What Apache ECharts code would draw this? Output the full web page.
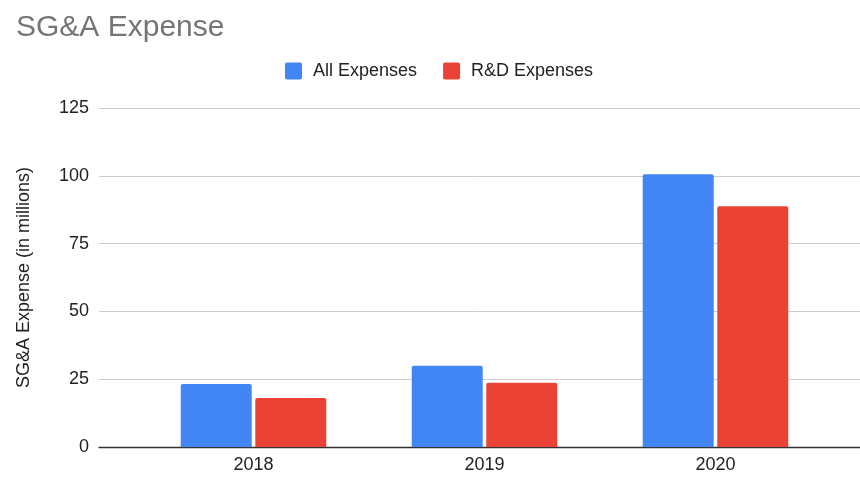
<!DOCTYPE html>
<html>
<head>
<meta charset="utf-8">
<script src="https://cdn.jsdelivr.net/npm/echarts@6/dist/echarts.min.js"></script>
<style>
  html, body { margin: 0; padding: 0; background: #fff; }
  #chart { width: 860px; height: 477px; }
</style>
</head>
<body>
<div id="chart"></div>
<script>
// Chart data
const years = ['2018', '2019', '2020'];
const allExpenses = [23.2, 30.0, 100.6];
const rdExpenses = [18.1, 23.7, 88.8];
const seriesNames = ['All Expenses', 'R&D Expenses'];
const yMin = 0, yMax = 125, yStep = 25;

const FONT = 'Liberation Sans, Arial, sans-serif';
const TOP = 108, BOTTOM = 30;
// small square legend marker with slightly rounded corners
const SQUARE = 'path://M2,0 H15 Q17,0 17,2 V15 Q17,17 15,17 H2 Q0,17 0,15 V2 Q0,0 2,0 Z';

const chart = echarts.init(document.getElementById('chart'), null, { renderer: 'canvas' });

chart.setOption({
  backgroundColor: '#ffffff',
  animation: false,
  title: {
    text: 'SG&A Expense',
    left: 11,
    top: 8,
    textStyle: { fontFamily: FONT, fontSize: 30, fontWeight: 'normal', color: '#757575' }
  },
  legend: {
    data: seriesNames,
    left: 280,
    top: 57,
    itemWidth: 17,
    itemHeight: 17,
    itemGap: 26,
    icon: SQUARE,
    textStyle: { fontFamily: FONT, fontSize: 18, color: '#222222', padding: [0, 0, 0, 6] }
  },
  grid: [
    // full-width grid carrying the value axis and gridlines
    { left: 99, right: 0, top: TOP, bottom: BOTTOM },
    // inner grid holding the category bars
    { left: 138, right: 29, top: TOP, bottom: BOTTOM }
  ],
  xAxis: [
    {
      gridIndex: 0, type: 'value', min: 0, max: 1,
      axisLine: { show: true, onZero: false, lineStyle: { color: '#333333', width: 1.3 } },
      axisTick: { show: false }, axisLabel: { show: false }, splitLine: { show: false }
    },
    {
      gridIndex: 1, type: 'category', data: years,
      axisLine: { show: false }, axisTick: { show: false },
      axisLabel: { fontFamily: FONT, fontSize: 18, color: '#222222', margin: 9 }
    }
  ],
  yAxis: [
    {
      gridIndex: 0, type: 'value', min: yMin, max: yMax, interval: yStep,
      name: 'SG&A Expense (in millions)',
      nameLocation: 'middle', nameRotate: 90, nameGap: 66,
      nameTextStyle: { fontFamily: FONT, fontSize: 18, color: '#222222' },
      axisLine: { show: false }, axisTick: { show: false },
      axisLabel: { fontFamily: FONT, fontSize: 18, color: '#222222', margin: 10 },
      splitLine: { show: true, lineStyle: { color: '#cccccc', width: 1 } }
    },
    {
      gridIndex: 1, type: 'value', min: yMin, max: yMax, interval: yStep,
      show: false, splitLine: { show: false }
    }
  ],
  series: [
    {
      name: seriesNames[0], type: 'bar', xAxisIndex: 1, yAxisIndex: 1,
      data: allExpenses, barWidth: 71, barGap: '5%',
      itemStyle: { color: '#4285F4', borderRadius: [2, 2, 0, 0] }
    },
    {
      name: seriesNames[1], type: 'bar', xAxisIndex: 1, yAxisIndex: 1,
      data: rdExpenses, barWidth: 71,
      itemStyle: { color: '#EA4335', borderRadius: [2, 2, 0, 0] }
    }
  ]
});
</script>
</body>
</html>
